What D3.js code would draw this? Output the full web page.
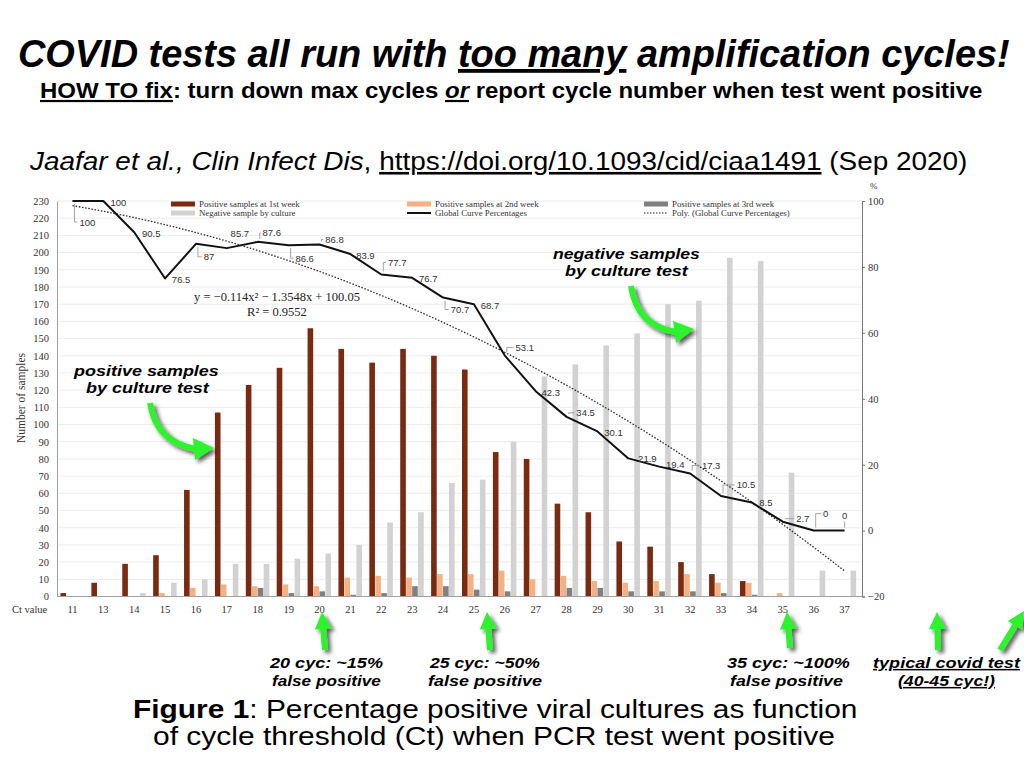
<!DOCTYPE html>
<html><head><meta charset="utf-8">
<script src="https://cdn.jsdelivr.net/npm/d3@7/dist/d3.min.js"></script>
<style>body{margin:0;background:#fff;} svg{display:block;}</style>
</head><body>
<svg id="c" width="1024" height="768"></svg>
<script>
// ---------- DATA ----------
const categories = ["11","13","14","15","16","17","18","19","20","21","22","23","24","25","26","27","28","29","30","31","32","33","34","35","36","37"];
const week1    = [2,8,19,24,62,107,123,133,156,144,136,144,140,132,84,80,54,49,32,29,20,13,9,0,0,0];
const week2    = [0,0,0,2,5,7,6,7,6,11,12,11,13,13,15,10,12,9,8,9,13,8,8,2,0,0];
const week3    = [0,0,0,0,0,0,5,2,3,1,2,6,6,4,3,0,5,5,3,3,3,2,1,0,0,0];
const negative = [0,0,2,8,10,19,19,22,25,30,43,49,66,68,90,128,135,146,153,170,172,197,195,72,15,15];
const globalPct = [100,100,90.5,76.5,87,85.7,87.6,86.6,86.8,83.9,77.7,76.7,70.7,68.7,53.1,42.3,34.5,30.1,21.9,19.4,17.3,10.5,8.5,2.7,0,0];
const polyCoef = [-0.114, -1.3548, 100.05]; // y = a x^2 + b x + c (trendline shown in chart)
const leftTicks  = [0,10,20,30,40,50,60,70,80,90,100,110,120,130,140,150,160,170,180,190,200,210,220,230];
const rightTicks = [-20,0,20,40,60,80,100];
const seriesNames = ["Positive samples at 1st week","Positive samples at 2nd week","Positive samples at 3rd week","Negative sample by culture"];

// ---------- LAYOUT ----------
const labelOffsets = [[15,21],[15,1],[17,1],[16,1.5],[13,13],[13,-15],[14,-9],[16,13],[15,-5],[15,1],[16,-12],[16,1],[17,12],[16,1],[20,-8],[15,1],[19,-4],[16,1],[19,0],[16,-2],[21,-8],[25,-11],[14,0],[20,-3],[12,-17],[0,-15]];
const leaders = [1,0,0,0,1,0,1,1,1,0,1,0,1,0,1,0,1,0,0,0,1,1,0,1,1,1];
const colors = ["#7b2a12","#f4b183","#808080","#d2d2d2"];
const SERIF = "'Liberation Serif','DejaVu Serif',serif";
const SANS = "'Liberation Sans',Arial,sans-serif";

const svg = d3.select("#c");
svg.append("rect").attr("width",1024).attr("height",768).attr("fill","#fff");

const defs = svg.append("defs");
const f = defs.append("filter").attr("id","sh").attr("x","-50%").attr("y","-50%").attr("width","200%").attr("height","200%");
f.append("feDropShadow").attr("dx",3).attr("dy",3).attr("stdDeviation",2.2).attr("flood-color","#000").attr("flood-opacity",0.65);

const yBase = 596.5, yTop = 201;
const x0 = d3.scaleBand().domain(categories).range([57,860]).padding(0);
const x1 = d3.scaleBand().domain([0,1,2,3]).range([3.5,27]).paddingInner(0.06);
const yL = d3.scaleLinear().domain([0,230]).range([yBase,yTop]);
const yR = d3.scaleLinear().domain([-20,100]).range([yBase,yTop]);
const cx = c => x0(c) + x0.bandwidth()/2;

// gridlines
svg.append("g").selectAll("line").data(leftTicks.filter(d=>d>0)).join("line")
  .attr("x1",57).attr("x2",862).attr("y1",d=>yL(d)).attr("y2",d=>yL(d))
  .attr("stroke","#ececec").attr("stroke-width",1);

// bars
const allSeries = [week1,week2,week3,negative];
allSeries.forEach((arr,s)=>{
  svg.append("g").selectAll("rect").data(arr).join("rect")
    .attr("x",(d,i)=>x0(categories[i])+x1(s))
    .attr("width",x1.bandwidth())
    .attr("y",d=>yL(d))
    .attr("height",d=>yBase-yL(d))
    .attr("fill",colors[s]);
});

// axes
const gl = svg.append("g").attr("transform","translate(57,0)")
  .call(d3.axisLeft(yL).tickValues(leftTicks).tickSize(0).tickPadding(8));
gl.select(".domain").attr("stroke","#a0a0a0");
gl.selectAll("text").attr("font-family",SERIF).attr("font-size",10.5).attr("fill","#333");

const gr = svg.append("g").attr("transform","translate(862,0)")
  .call(d3.axisRight(yR).tickValues(rightTicks).tickSize(3).tickPadding(3).tickFormat(d=>d<0?"\u2212"+(-d):d));
gr.select(".domain").attr("stroke","#777");
gr.selectAll("line").attr("stroke","#777");
gr.selectAll("text").attr("font-family",SERIF).attr("font-size",10.5).attr("fill","#333");

const gb = svg.append("g").attr("transform",`translate(0,${yBase})`)
  .call(d3.axisBottom(x0).tickSize(0).tickPadding(9));
gb.select(".domain").attr("stroke","#a0a0a0").attr("d","M57,0H862");
gb.selectAll("text").attr("font-family",SERIF).attr("font-size",10.5).attr("fill","#333");

svg.append("text").attr("x",12).attr("y",613).attr("font-family",SERIF).attr("font-size",10.5).attr("fill","#333").text("Ct value");
svg.append("text").attr("transform","translate(25,398) rotate(-90)").attr("text-anchor","middle")
  .attr("font-family",SERIF).attr("font-size",11.5).attr("fill","#333").text("Number of samples");
svg.append("text").attr("x",870).attr("y",189).attr("font-family",SERIF).attr("font-size",9).attr("fill","#333").text("%");

// poly trendline (dotted)
const polyPts = d3.range(1,26.001,0.25).map(t=>[t, polyCoef[0]*t*t+polyCoef[1]*t+polyCoef[2]]);
const tx = d3.scaleLinear().domain([1,categories.length]).range([cx(categories[0]),cx(categories[categories.length-1])]);
svg.append("path").datum(polyPts)
  .attr("d",d3.line().x(d=>tx(d[0])).y(d=>yR(d[1])))
  .attr("fill","none").attr("stroke","#333").attr("stroke-width",1.3).attr("stroke-dasharray","1.6,1.6");

// global line
svg.append("path").datum(globalPct)
  .attr("d",d3.line().x((d,i)=>cx(categories[i])).y(d=>yR(d)))
  .attr("fill","none").attr("stroke","#111").attr("stroke-width",2).attr("stroke-linejoin","round");

// data labels
const lg = svg.append("g");
globalPct.forEach((v,i)=>{
  const px = cx(categories[i]), py = yR(v);
  const [dx,dy] = labelOffsets[i];
  const lx = px+dx, ly = py+dy;
  const t = lg.append("text").attr("x",lx).attr("y",ly).attr("text-anchor","middle").attr("dominant-baseline","central")
    .attr("font-family",SANS).attr("font-size",9.5).attr("fill","#333").text(String(v));
  if (leaders[i]) {
    const w = t.node().getComputedTextLength();
    let d;
    if (dx===0) d = `M${px},${py-3}V${ly+6}`;
    else d = `M${px+2},${py+(dy>0?3:-3)}V${ly}H${lx-w/2-2}`;
    lg.append("path").attr("d",d).attr("fill","none").attr("stroke","#9a9a9a").attr("stroke-width",0.9);
  }
});

// legend
const legX = [171,407,644], legY = [204,213];
const legItems = [
  {col:0,row:0,type:"bar",c:colors[0],t:seriesNames[0]},
  {col:1,row:0,type:"bar",c:colors[1],t:seriesNames[1]},
  {col:2,row:0,type:"bar",c:colors[2],t:seriesNames[2]},
  {col:0,row:1,type:"bar",c:colors[3],t:seriesNames[3]},
  {col:1,row:1,type:"line",c:"#111",t:"Global Curve Percentages"},
  {col:2,row:1,type:"dot",c:"#333",t:"Poly. (Global Curve Percentages)"}
];
legItems.forEach(it=>{
  const x = legX[it.col], y = legY[it.row];
  if (it.type==="bar") svg.append("rect").attr("x",x).attr("y",y-2.5).attr("width",24).attr("height",5).attr("fill",it.c);
  else svg.append("line").attr("x1",x).attr("x2",x+24).attr("y1",y).attr("y2",y).attr("stroke",it.c)
        .attr("stroke-width",it.type==="line"?2:1.2).attr("stroke-dasharray",it.type==="dot"?"1.5,1.5":null);
  svg.append("text").attr("x",x+28).attr("y",y).attr("dominant-baseline","central")
    .attr("font-family",SERIF).attr("font-size",8.8).attr("fill","#333").text(it.t);
});

// equation
svg.append("text").attr("x",277).attr("y",301).attr("text-anchor","middle").attr("font-family",SERIF).attr("font-size",12.5).attr("fill","#222")
  .text("y = \u22120.114x\u00b2 \u2212 1.3548x + 100.05");
svg.append("text").attr("x",277).attr("y",316).attr("text-anchor","middle").attr("font-family",SERIF).attr("font-size",12.5).attr("fill","#222")
  .text("R\u00b2 = 0.9552");

// ---------- text helper: fit text into a width ----------
function fitText(parts, x, baseline, width, size, base){
  const g = svg.append("g");
  const t = g.append("text").attr("x",0).attr("y",0).attr("font-family",SANS).attr("font-size",size).attr("fill","#000")
    .attr("font-weight",base.b?"bold":"normal").attr("font-style",base.i?"italic":"normal");
  parts.forEach(p=>{
    const s = t.append("tspan").text(p.t);
    if (p.u) s.attr("text-decoration","underline");
    if (p.i!==undefined) s.attr("font-style",p.i?"italic":"normal");
    if (p.b!==undefined) s.attr("font-weight",p.b?"bold":"normal");
  });
  const w = t.node().getComputedTextLength();
  g.attr("transform",`translate(${x},${baseline}) scale(${width/w},1)`);
  return g;
}

// titles
fitText([{t:"COVID tests all run with "},{t:"too many",u:1},{t:" amplification cycles!"}],18,67,992,38,{b:1,i:1});
fitText([{t:"HOW TO fix",u:1},{t:": turn down max cycles "},{t:"or",u:1,i:1},{t:" report cycle number when test went positive"}],40,98,943,22,{b:1});
fitText([{t:"Jaafar et al., Clin Infect Dis",i:1},{t:", "},{t:"https://doi.org/10.1093/cid/ciaa1491",u:1},{t:" (Sep 2020)"}],30,170,938,26,{});

// annotations in plot
fitText([{t:"positive samples"}],74,376,145,15,{b:1,i:1});
fitText([{t:"by culture test"}],86,393,123,15,{b:1,i:1});
fitText([{t:"negative samples"}],553,259,147,15,{b:1,i:1});
fitText([{t:"by culture test"}],565,276,123,15,{b:1,i:1});

// bottom notes
fitText([{t:"20 cyc: ~15%"}],270,668,113,15,{b:1,i:1});
fitText([{t:"false positive"}],272,686,109,15,{b:1,i:1});
fitText([{t:"25 cyc: ~50%"}],430,668,110,15,{b:1,i:1});
fitText([{t:"false positive"}],428,686,114,15,{b:1,i:1});
fitText([{t:"35 cyc: ~100%"}],727,668,123,15,{b:1,i:1});
fitText([{t:"false positive"}],730,686,113,15,{b:1,i:1});
fitText([{t:"typical covid test",u:1}],873,668,147,15,{b:1,i:1});
fitText([{t:"(40-45 cyc!)",u:1}],898,686,97,15,{b:1,i:1});

// caption
fitText([{t:"Figure 1",b:1},{t:": Percentage positive viral cultures as function"}],133,718,725,25,{});
fitText([{t:"of cycle threshold (Ct) when PCR test went positive"}],153,745,682,25,{});

// green arrows
const GREEN = "#2ef22e";
const ag = svg.append("g").attr("filter","url(#sh)");
function curvedArrow(d, tip, b1, b2){
  ag.append("path").attr("d",d).attr("fill","none").attr("stroke",GREEN).attr("stroke-width",6).attr("stroke-linecap","butt");
  ag.append("path").attr("d",`M${tip[0]},${tip[1]}L${b1[0]},${b1[1]}L${b2[0]},${b2[1]}Z`).attr("fill",GREEN);
}
curvedArrow("M150,403 Q156,442 196,449",[214,448],[193,438],[195,460]);
curvedArrow("M631,286 Q637,326 676,332",[694,329],[673,321],[676,343]);
function upArrow(xt, yt, xb, yb){
  const ang = Math.atan2(yt-yb, xt-xb);
  const ux = Math.cos(ang), uy = Math.sin(ang), nx = -uy, ny = ux;
  const hl = 17, hw = 8.5, sw = 3;
  const hx = xt - ux*hl, hy = yt - uy*hl;
  const pts = [[xt,yt],[hx+nx*hw,hy+ny*hw],[hx+nx*sw,hy+ny*sw],[xb+nx*sw,yb+ny*sw],[xb-nx*sw,yb-ny*sw],[hx-nx*sw,hy-ny*sw],[hx-nx*hw,hy-ny*hw]];
  ag.append("path").attr("d","M"+pts.map(p=>p.join(",")).join("L")+"Z").attr("fill",GREEN);
}
upArrow(322,612,325,650);
upArrow(487,612,490,650);
upArrow(787,612,790,648);
upArrow(937,612,938,650);
upArrow(1024,611,1000,650);
</script>
</body></html>
